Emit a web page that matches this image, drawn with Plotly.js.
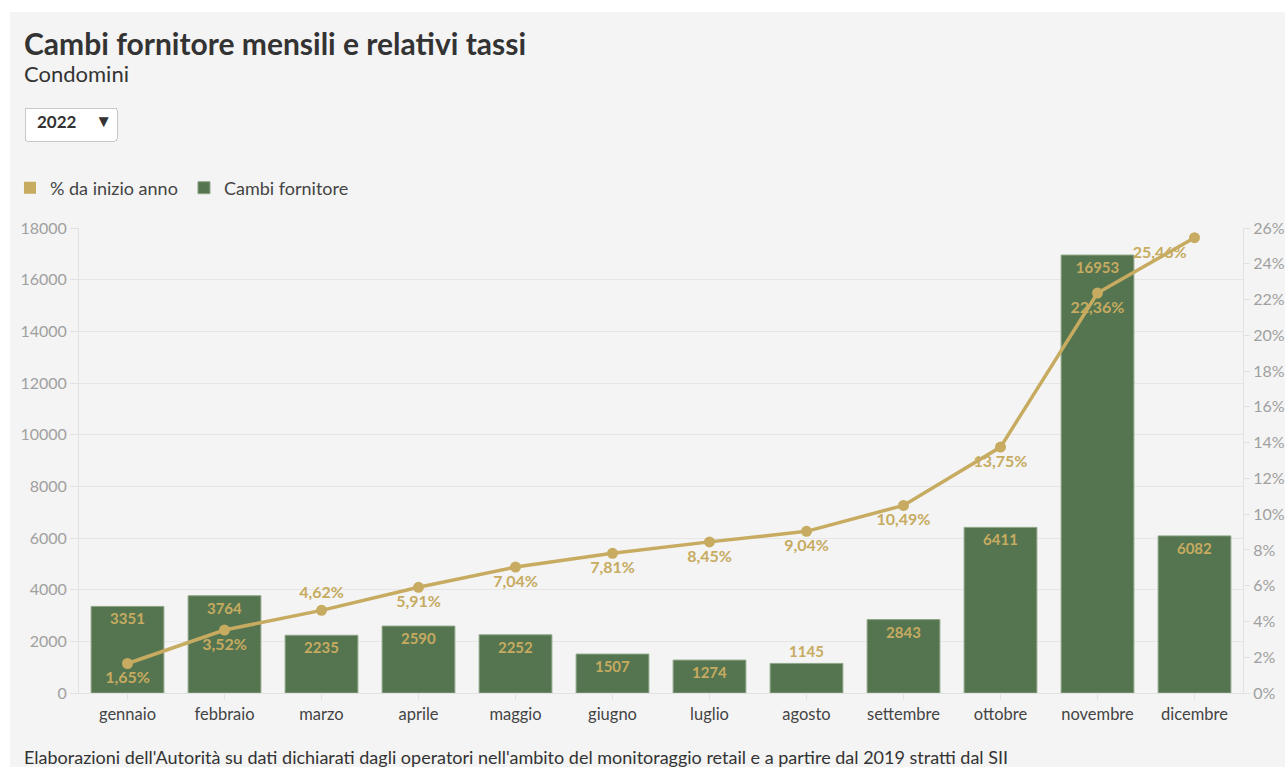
<!DOCTYPE html>
<html><head><meta charset="utf-8">
<script src="https://cdn.plot.ly/plotly-3.0.1.min.js"></script>
<style>
html,body{margin:0;padding:0;background:#fff;overflow:hidden;width:1285px;height:767px;}
#chart{position:absolute;left:10px;top:12px;width:1290px;height:755px;}
</style></head>
<body><div id="chart"></div>
<script>
const months = ["gennaio","febbraio","marzo","aprile","maggio","giugno","luglio","agosto","settembre","ottobre","novembre","dicembre"];
const switches = [3351,3764,2235,2590,2252,1507,1274,1145,2843,6411,16953,6082];
const pctYear = [1.65,3.52,4.62,5.91,7.04,7.81,8.45,9.04,10.49,13.75,22.36,25.46];
const barTextPos = ["inside","inside","inside","inside","inside","inside","inside","outside","inside","inside","inside","inside"];
const lineTextPos = ["bottom center","bottom center","top center","bottom center","bottom center","bottom center","bottom center","bottom center","bottom center","bottom center","bottom center","bottom left"];

const GOLD = "#c6ab60";
const GREEN = "#557550";
const FONT = "Lato, 'Source Sans Pro', sans-serif";

const lineTrace = {
  type:"scatter", mode:"lines+markers+text", name:"% da inizio anno",
  x: months, y: pctYear, yaxis:"y2", showlegend:false,
  line:{color:GOLD, width:3.5}, marker:{color:GOLD, size:11},
  texttemplate:"%{y:.2f}%", textposition: lineTextPos,
  textfont:{family:FONT, size:16, color:GOLD, weight:"bold"},
  cliponaxis:false, hoverinfo:"x+y"
};
// legend-only swatch for the line series (no data drawn)
const lineLegend = {
  type:"bar", name:"% da inizio anno", x:[null], y:[null], showlegend:true,
  marker:{color:GOLD}, hoverinfo:"skip"
};
const barTrace = {
  type:"bar", name:"Cambi fornitore", x: months, y: switches,
  marker:{color:GREEN, line:{color:"#8da585", width:1}},
  text: switches.map(String), textposition: barTextPos,
  insidetextanchor:"end", constraintext:"none",
  textfont:{family:FONT, size:15, color:GOLD, weight:"bold"},
  outsidetextfont:{family:FONT, size:15, color:GOLD, weight:"bold"},
  insidetextfont:{family:FONT, size:15, color:GOLD, weight:"bold"},
  cliponaxis:false
};

const layout = {
  width:1290, height:755,
  paper_bgcolor:"#f4f4f4", plot_bgcolor:"#f4f4f4",
  margin:{l:69, r:57, t:216, b:74, autoexpand:false},
  separators:",.",
  font:{family:FONT, color:"#333"},
  bargap:0.25, barmode:"overlay",
  showlegend:true,
  legend:{orientation:"h", x:-0.0593, xanchor:"left", y:1.086, yanchor:"middle",
          font:{family:FONT, size:18, color:"#444"}, bgcolor:"rgba(0,0,0,0)",
          traceorder:"normal", itemwidth:30, entrywidth:129, entrywidthmode:"pixels"},
  title:{text:"<b>Cambi fornitore mensili e relativi tassi</b>", x:14/1290, xanchor:"left", xref:"container",
         y:1-32/755, yanchor:"middle", yref:"container",
         font:{family:FONT, size:30, color:"#333"}},
  xaxis:{type:"category", range:[-0.5, months.length-0.5], autorange:false,
         tickfont:{family:FONT, size:16.5, color:"#444"}, automargin:false,
         showgrid:false, showline:true, linecolor:"#e2e2e2", ticks:"outside", ticklen:6, tickcolor:"#e2e2e2"},
  yaxis:{range:[0,18000], dtick:2000, tickfont:{family:FONT, size:16, color:"#a0a0a0"}, automargin:false,
         gridcolor:"#e6e6e6", showline:true, linecolor:"#e2e2e2", ticks:"outside", ticklen:8, tickcolor:"#e2e2e2",
         zeroline:false, tickformat:"d"},
  yaxis2:{range:[0,26], dtick:2, overlaying:"y", side:"right", ticksuffix:"%", automargin:false,
          tickfont:{family:FONT, size:16, color:"#a0a0a0"}, showgrid:false,
          showline:true, linecolor:"#e2e2e2", ticks:"outside", ticklen:6, tickcolor:"#e2e2e2", zeroline:false},
  annotations:[
    {text:"Condomini", xref:"paper", yref:"paper", x:-0.0493, xanchor:"left", y:(681-62)/465, yanchor:"middle",
     showarrow:false, font:{family:FONT, size:22, color:"#333"}},
    {text:"Elaborazioni dell'Autorità su dati dichiarati dagli operatori nell'ambito del monitoraggio retail e a partire dal 2019 stratti dal SII",
     xref:"paper", yref:"paper", x:-0.0493, xanchor:"left", y:(681-745)/465, yanchor:"middle",
     showarrow:false, font:{family:FONT, size:18, color:"#333"}}
  ],
  updatemenus:[{
    type:"dropdown", x:-0.047, xanchor:"left", y:(681-95)/465, yanchor:"top",
    bgcolor:"#ffffff", bordercolor:"#c8c8c8", borderwidth:1,
    font:{family:FONT, size:17, color:"#333", weight:"bold"},
    pad:{l:0, r:0, t:0, b:0},
    buttons:[{label:"<b>2022</b>\u00a0\u00a0\u00a0", method:"skip", args:[]}]
  }]
};

Plotly.newPlot("chart", [lineLegend, barTrace, lineTrace], layout, {displayModeBar:false});
</script></body></html>
